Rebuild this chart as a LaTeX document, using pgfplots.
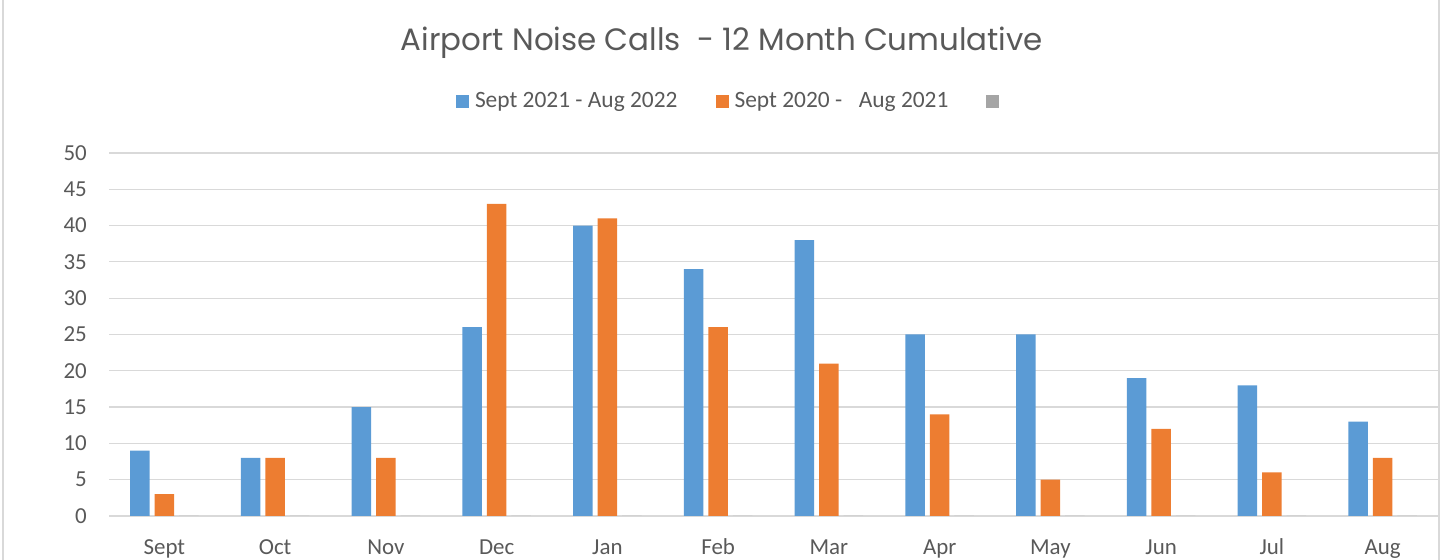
\documentclass[border=0pt]{standalone}
\usepackage{pgfplots}
\pgfplotsset{compat=1.18}
\usepackage{fontspec}
\setmainfont{Carlito}
\newfontfamily\titlefont{Poppins}
\definecolor{cblue}{HTML}{5B9BD5}
\definecolor{corange}{HTML}{ED7D31}
\definecolor{cgrey}{HTML}{A5A5A5}
\definecolor{gridgrey}{HTML}{D9D9D9}
\definecolor{txtgrey}{HTML}{595959}
\begin{document}
\begin{tikzpicture}[x=1bp,y=1bp]
\useasboundingbox (0,0) rectangle (1442,560);
\draw[gridgrey, line width=1.5bp] (3,-10) -- (3,570);
\draw[gridgrey, line width=1.5bp] (1439,-10) -- (1439,570);
\begin{axis}[
  at={(109bp,44bp)}, anchor=south west,
  width=1329bp, height=363bp, scale only axis,
  xmin=-0.5, xmax=11.5, ymin=0, ymax=50,
  ytick={0,5,...,50},
  xtick={0,...,11},
  xticklabels={Sept,Oct,Nov,Dec,Jan,Feb,Mar,Apr,May,Jun,Jul,Aug},
  axis line style={draw=none},
  axis x line*=bottom,
  axis y line*=left,
  major tick length=0pt,
  ymajorgrids,
  grid style={gridgrey, line width=1.2bp},
  extra y ticks={0},
  extra y tick labels={},
  extra y tick style={grid style={gridgrey, line width=1.6bp}},
  /pgf/number format/assume math mode=true,
  ticklabel style={font=\fontsize{23}{27}\selectfont, text=txtgrey, inner sep=0pt},
  yticklabel style={anchor=east, xshift=-22bp},
  xticklabel style={anchor=base, yshift=-39bp},
  ybar, bar width=19.5bp,
  title={Airport Noise Calls\ \ - 12 Month Cumulative},
  title style={at={(0.4612,1.267)}, anchor=base, font=\titlefont\fontsize{31}{36}\selectfont, text=txtgrey, inner sep=0pt},
  legend columns=3,
  legend style={at={(0.2611,1.143)}, anchor=west, draw=none, fill=none,
    inner sep=0pt, outer sep=0pt,
    font=\fontsize{23.5}{28}\selectfont, text=txtgrey,
    nodes={inner sep=0pt},
    /tikz/every odd column/.append style={column sep=6bp},
    /tikz/every even column/.append style={column sep=38bp}},
  legend image code/.code={\fill[#1] (0bp,-6.5bp) rectangle (13bp,6.5bp);},
]
\addplot[fill=cblue, draw=none, bar shift=-24.5bp] coordinates {
(0,9) (1,8) (2,15) (3,26) (4,40) (5,34) (6,38) (7,25) (8,25) (9,19) (10,18) (11,13)};
\addlegendentry{Sept 2021 - Aug 2022}
\addplot[fill=corange, draw=none, bar shift=0bp] coordinates {
(0,3) (1,8) (2,8) (3,43) (4,41) (5,26) (6,21) (7,14) (8,5) (9,12) (10,6) (11,8)};
\addlegendentry{Sept 2020 -\ \ \hspace{6bp}Aug 2021}
\addplot[fill=cgrey, draw=none, bar shift=24.5bp] coordinates {
(0,0) (1,0) (2,0) (3,0) (4,0) (5,0) (6,0) (7,0) (8,0) (9,0) (10,0) (11,0)};
\addlegendentry{}
\end{axis}
\end{tikzpicture}
\end{document}
